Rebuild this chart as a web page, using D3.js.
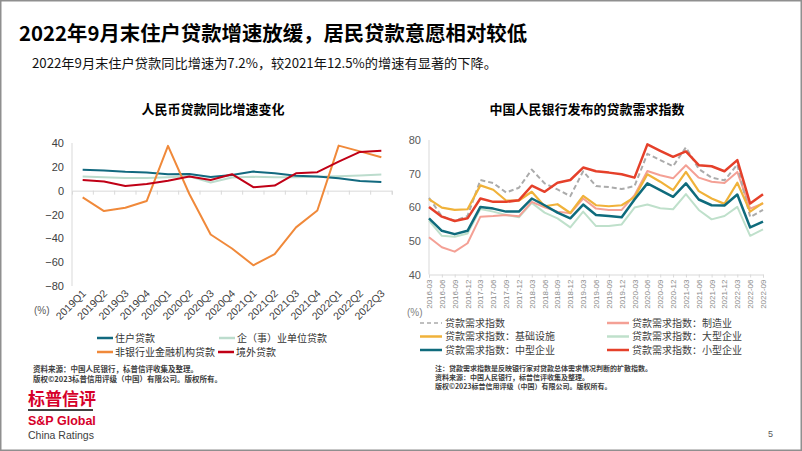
<!DOCTYPE html>
<html><head><meta charset="utf-8">
<script src="https://cdn.jsdelivr.net/npm/d3@7"></script>
<style>
html,body{margin:0;padding:0;background:#fff;}
svg text{font-family:"Liberation Sans","Noto Sans CJK SC",sans-serif;}
.cjk{font-family:"Noto Sans CJK SC","Liberation Sans",sans-serif;}
</style></head>
<body>
<svg id="c" width="802" height="451"></svg>
<script>
// ---------- data ----------
const title = "2022年9月末住户贷款增速放缓，居民贷款意愿相对较低";
const subtitle = "2022年9月末住户贷款同比增速为7.2%，较2021年12.5%的增速有显著的下降。";

const leftTitle = "人民币贷款同比增速变化";
const quarters = ["2019Q1","2019Q2","2019Q3","2019Q4","2020Q1","2020Q2","2020Q3","2020Q4","2021Q1","2021Q2","2021Q3","2021Q4","2022Q1","2022Q2","2022Q3"];
const household = [17.5, 16.9, 15.9, 15.3, 13.7, 13.9, 11.4, 13.2, 16.0, 14.6, 12.6, 11.8, 10.4, 8.2, 7.2];
const corporate = [11.8, 11.2, 10.6, 10.6, 11.2, 12.0, 6.8, 11.0, 11.6, 11.2, 11.2, 11.6, 12.0, 12.7, 13.5];
const nonbank = [-5.6, -17.1, -14.4, -8.7, 37.6, -2.8, -36.8, -48.5, -62.6, -53.3, -30.8, -16.6, 37.8, 33.0, 28.0];
const overseas = [9.0, 7.7, 4.0, 5.6, 8.4, 11.8, 9.0, 13.8, 2.9, 4.3, 14.6, 15.5, 24.4, 32.5, 33.4];
const leftTicks = [40, 20, 0, -20, -40, -60, -80];
const leftNames = ["住户贷款", "企（事）业单位贷款", "非银行业金融机构贷款", "境外贷款"];
const leftNotes = ["资料来源：中国人民银行，标普信评收集及整理。", "版权©2023标普信用评级（中国）有限公司。版权所有。"];

const rightTitle = "中国人民银行发布的贷款需求指数";
const months = ["2016-03","2016-06","2016-09","2016-12","2017-03","2017-06","2017-09","2017-12","2018-03","2018-06","2018-09","2018-12","2019-03","2019-06","2019-09","2019-12","2020-03","2020-06","2020-09","2020-12","2021-03","2021-06","2021-09","2021-12","2022-03","2022-06","2022-09"];
const demandAll = [62.8, 57.3, 56.0, 57.4, 68.1, 67.2, 64.4, 65.8, 71.2, 67.1, 65.3, 63.3, 70.7, 66.3, 66.0, 65.4, 66.3, 75.9, 74.0, 72.2, 77.8, 71.4, 68.8, 68.0, 72.7, 57.1, 59.2];
const demandMfg = [51.1, 48.1, 46.8, 49.3, 57.2, 57.4, 57.7, 57.3, 61.6, 60.0, 58.7, 58.2, 62.6, 59.6, 59.2, 59.2, 63.6, 70.8, 69.5, 68.6, 72.5, 68.8, 67.6, 67.2, 70.5, 59.6, 61.1];
const demandInfra = [62.4, 59.9, 59.2, 59.4, 66.5, 65.2, 62.0, 62.0, 64.6, 60.3, 60.9, 58.3, 63.4, 60.6, 60.3, 60.6, 63.0, 69.8, 67.6, 65.1, 70.5, 64.8, 62.6, 61.0, 67.3, 58.7, 61.3];
const demandLarge = [56.0, 51.5, 51.2, 52.2, 59.5, 58.7, 57.7, 57.0, 61.3, 58.4, 56.7, 54.0, 58.7, 54.4, 54.4, 54.9, 59.9, 60.8, 59.7, 59.4, 63.9, 59.2, 56.4, 57.4, 60.1, 51.5, 53.4];
const demandMedium = [56.7, 53.0, 52.0, 53.0, 60.1, 59.6, 58.7, 58.7, 62.6, 60.6, 58.4, 56.7, 60.8, 57.7, 57.4, 57.0, 62.3, 67.1, 65.1, 63.1, 67.1, 62.3, 60.6, 60.5, 63.8, 54.0, 55.7];
const demandSmall = [60.1, 57.2, 55.9, 56.7, 62.6, 61.6, 61.6, 62.1, 66.4, 64.6, 67.3, 68.1, 71.8, 70.7, 70.3, 69.8, 68.8, 78.7, 76.8, 75.0, 76.6, 72.5, 72.2, 70.7, 74.0, 61.1, 63.9];
const rightTicks = [40, 50, 60, 70, 80];
const rightNames = ["贷款需求指数", "贷款需求指数：制造业", "贷款需求指数：基础设施", "贷款需求指数：大型企业", "贷款需求指数：中型企业", "贷款需求指数：小型企业"];
const rightNotes = ["注：贷款需求指数是反映银行家对贷款总体需求情况判断的扩散指数。", "资料来源：中国人民银行，标普信评收集及整理。", "版权©2023标普信用评级（中国）有限公司。版权所有。"];

// ---------- drawing ----------
const svg = d3.select("#c");
svg.append("rect").attr("x",0.75).attr("y",0.75).attr("width",800.5).attr("height",449.5)
  .attr("fill","#fff").attr("stroke","#8f8f8f").attr("stroke-width",1.5);

svg.append("text").attr("class","cjk").attr("x",19).attr("y",41).attr("font-size",20).attr("font-weight","bold")
  .attr("fill","#000").attr("textLength",508).attr("lengthAdjust","spacingAndGlyphs").text(title);
svg.append("text").attr("class","cjk").attr("x",32).attr("y",68).attr("font-size",13)
  .attr("fill","#111").attr("textLength",465).attr("lengthAdjust","spacingAndGlyphs").text(subtitle);

// ----- left chart -----
const L = {x0:72, x1:392, y0:143, y1:286};
const lx = d3.scaleBand().domain(quarters).range([L.x0, L.x1]).padding(0);
const ly = d3.scaleLinear().domain([-80, 40]).range([L.y1, L.y0]);
const lcx = q => lx(q) + lx.bandwidth()/2;

svg.append("text").attr("class","cjk").attr("x",213).attr("y",114).attr("text-anchor","middle")
  .attr("font-size",13).attr("font-weight","bold").attr("fill","#000").text(leftTitle);

const gL = svg.append("g");
gL.append("line").attr("x1",L.x0).attr("x2",L.x0).attr("y1",ly(40)).attr("y2",ly(-80)).attr("stroke","#d9d9d9").attr("stroke-width",1);
// zero axis with ticks
const zeroAxis = d3.axisBottom(lx).tickSize(4).tickFormat("");
const gz = gL.append("g").attr("transform",`translate(0,${ly(0)})`).call(zeroAxis);
gz.select(".domain").attr("stroke","#d9d9d9");
gz.selectAll(".tick line").attr("stroke","#d9d9d9").attr("transform",`translate(${lx.bandwidth()/2},0)`);
// y ticks
const yAxL = d3.axisLeft(ly).tickValues(leftTicks).tickSize(0).tickPadding(8);
const gyl = gL.append("g").attr("transform",`translate(${L.x0},0)`).call(yAxL);
gyl.select(".domain").remove();
gyl.selectAll("text").attr("font-size",11).attr("fill","#404040").attr("font-family","Liberation Sans");
// x labels
gL.selectAll(".xl").data(quarters).enter().append("text")
  .attr("transform",q=>`translate(${lcx(q)+4},${L.y1+8}) rotate(-45)`)
  .attr("text-anchor","end").attr("font-size",10.5).attr("fill","#404040").text(q=>q);
gL.append("text").attr("x",34).attr("y",314).attr("font-size",10).attr("fill","#595959").text("(%)");

const leftSeries = [
  {name:leftNames[1], values:corporate, color:"#bcdccd", w:2},
  {name:leftNames[0], values:household, color:"#12697f", w:2},
  {name:leftNames[2], values:nonbank, color:"#f0893a", w:2},
  {name:leftNames[3], values:overseas, color:"#c00016", w:2},
];
const lineL = d3.line().x((d,i)=>lcx(quarters[i])).y(d=>ly(d));
leftSeries.forEach(s=>{
  gL.append("path").datum(s.values).attr("d",lineL).attr("fill","none")
    .attr("stroke",s.color).attr("stroke-width",s.w).attr("stroke-linejoin","round");
});
// left legend
const lLeg = [
  {name:leftNames[0], color:"#12697f", x:97, y:338},
  {name:leftNames[1], color:"#bcdccd", x:219, y:338},
  {name:leftNames[2], color:"#f0893a", x:97, y:352},
  {name:leftNames[3], color:"#c00016", x:218, y:352},
];
lLeg.forEach(d=>{
  svg.append("line").attr("x1",d.x).attr("x2",d.x+16).attr("y1",d.y).attr("y2",d.y).attr("stroke",d.color).attr("stroke-width",2.5);
  svg.append("text").attr("class","cjk").attr("x",d.x+18).attr("y",d.y+3.5).attr("font-size",10).attr("fill","#333").text(d.name);
});
leftNotes.forEach((t,i)=>{
  svg.append("text").attr("class","cjk").attr("x",33).attr("y",372+i*9.5).attr("font-size",7.5).attr("font-weight","bold").attr("fill","#404040").text(t);
});

// ----- right chart -----
const R = {x0:429, x1:763, y0:140, y1:274.5};
const rx = d3.scalePoint().domain(months).range([R.x0, R.x1]).padding(0);
const ry = d3.scaleLinear().domain([40, 80]).range([R.y1, R.y0]);

svg.append("text").attr("class","cjk").attr("x",587).attr("y",114).attr("text-anchor","middle")
  .attr("font-size",13).attr("font-weight","bold").attr("fill","#000").text(rightTitle);

const gR = svg.append("g");
gR.append("line").attr("x1",R.x0).attr("x2",R.x0).attr("y1",R.y0).attr("y2",R.y1).attr("stroke","#d9d9d9");
const xAxR = d3.axisBottom(rx).tickSize(3).tickFormat("");
const gxr = gR.append("g").attr("transform",`translate(0,${R.y1})`).call(xAxR);
gxr.select(".domain").attr("stroke","#d9d9d9");
gxr.selectAll(".tick line").attr("stroke","#d9d9d9");
gR.selectAll(".xr").data(months).enter().append("text")
  .attr("transform",m=>`translate(${rx(m)+3},${R.y1+5}) rotate(-90)`)
  .attr("text-anchor","end").attr("font-size",8).attr("fill","#8a8a8a").attr("font-family","Roboto").text(m=>m);
const yAxR = d3.axisLeft(ry).tickValues(rightTicks).tickSize(0).tickPadding(8);
const gyr = gR.append("g").attr("transform",`translate(${R.x0},0)`).call(yAxR);
gyr.select(".domain").remove();
gyr.selectAll("text").attr("font-size",11).attr("fill","#595959").attr("font-family","Roboto");
gR.append("text").attr("x",407).attr("y",316).attr("font-size",10).attr("fill","#7f7f7f").text("(%)");

const rightSeries = [
  {name:rightNames[3], values:demandLarge, color:"#bfe0cb", w:2},
  {name:rightNames[1], values:demandMfg, color:"#f4a095", w:2},
  {name:rightNames[0], values:demandAll, color:"#ababab", w:2, dash:"5,3"},
  {name:rightNames[2], values:demandInfra, color:"#f0b23a", w:2.2},
  {name:rightNames[4], values:demandMedium, color:"#0f6b7c", w:2.5},
  {name:rightNames[5], values:demandSmall, color:"#e5402a", w:2.5},
];
const lineR = d3.line().x((d,i)=>rx(months[i])).y(d=>ry(d));
rightSeries.forEach(s=>{
  gR.append("path").datum(s.values).attr("d",lineR).attr("fill","none")
    .attr("stroke",s.color).attr("stroke-width",s.w).attr("stroke-linejoin","round")
    .attr("stroke-dasharray",s.dash||null);
});
const rLegOrder = [0,1,2,3,4,5];
const rColors = {0:"#ababab",1:"#f4a095",2:"#f0b23a",3:"#bfe0cb",4:"#0f6b7c",5:"#e5402a"};
rLegOrder.forEach((k,i)=>{
  const col = i%2, row = Math.floor(i/2);
  const x = col===0 ? 420 : 607, y = 323 + row*13.5;
  svg.append("line").attr("x1",x).attr("x2",x+22).attr("y1",y).attr("y2",y)
    .attr("stroke",rColors[k]).attr("stroke-width",k===0?1.5:2.5).attr("stroke-dasharray",k===0?"4,3":null);
  svg.append("text").attr("class","cjk").attr("x",x+25).attr("y",y+3.5).attr("font-size",10).attr("fill","#404040").text(rightNames[k]);
});
rightNotes.forEach((t,i)=>{
  svg.append("text").attr("class","cjk").attr("x",435).attr("y",371+i*9).attr("font-size",7).attr("font-weight","bold").attr("fill","#404040").text(t);
});

// ----- logo / page number -----
svg.append("text").attr("class","cjk").attr("x",28).attr("y",405).attr("font-size",17).attr("font-weight","bold").attr("fill","#d6002a").text("标普信评");
svg.append("line").attr("x1",28).attr("x2",93).attr("y1",410).attr("y2",410).attr("stroke","#000").attr("stroke-width",1.3);
svg.append("text").attr("x",28).attr("y",425).attr("font-size",12.5).attr("font-weight","bold").attr("fill","#d6002a").text("S&P Global");
svg.append("text").attr("x",28).attr("y",438.5).attr("font-size",10.5).attr("fill","#404040").text("China Ratings");
svg.append("text").attr("x",768).attr("y",437).attr("font-size",9).attr("fill","#595959").text("5");
</script>
</body></html>
